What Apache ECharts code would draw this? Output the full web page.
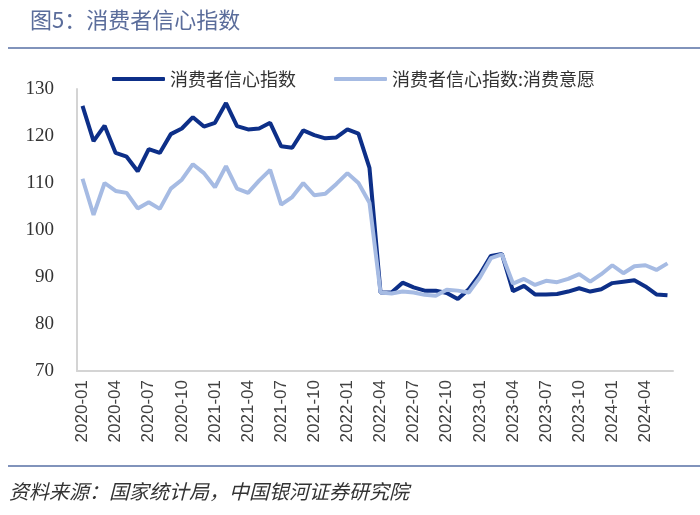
<!DOCTYPE html>
<html>
<head>
<meta charset="utf-8">
<script src="https://cdn.jsdelivr.net/npm/echarts@6/dist/echarts.min.js"></script>
<style>
  html, body { margin: 0; padding: 0; background: #fff; }
  #main { width: 700px; height: 515px; }
</style>
</head>
<body>
<div id="main"></div>
<script>
// 月份 2020-01 ~ 2024-06
var months = []
for (var y = 2020; y <= 2024; y++) {
  for (var m = 1; m <= 12; m++) {
    if (y === 2024 && m > 6) break
    months.push(y + '-' + (m < 10 ? '0' + m : m))
  }
}

// 消费者信心指数
var confidence = [
  126.4, 118.9, 122.2, 116.4, 115.6, 112.5, 117.2, 116.4, 120.4, 121.6, 124.0, 122.0,
  122.8, 127.0, 122.1, 121.4, 121.6, 122.8, 117.8, 117.5, 121.2, 120.2, 119.5, 119.7,
  121.4, 120.5, 113.2, 86.7, 86.7, 88.8, 87.8, 87.1, 87.1, 86.6, 85.3, 87.4,
  90.6, 94.5, 94.9, 87.0, 88.1, 86.3, 86.3, 86.4, 86.9, 87.6, 86.9, 87.4,
  88.7, 89.0, 89.3, 88.0, 86.3, 86.1
]

// 消费者信心指数:消费意愿
var willingness = [
  110.9, 103.2, 110.0, 108.3, 107.9, 104.6, 105.9, 104.5, 108.8, 110.7, 114.0, 112.1,
  109.1, 113.6, 108.8, 107.9, 110.5, 112.8, 105.4, 107.0, 110.0, 107.4, 107.7, 109.8,
  112.1, 110.0, 105.8, 86.7, 86.5, 86.9, 86.7, 86.2, 86.0, 87.3, 87.1, 86.7,
  89.9, 94.0, 94.8, 88.6, 89.6, 88.3, 89.2, 88.9, 89.6, 90.6, 89.0, 90.6,
  92.5, 90.8, 92.3, 92.5, 91.5, 92.9
]

var myChart = echarts.init(document.getElementById('main'))
var option = {
  backgroundColor: '#fff',
  animation: false,
  graphic: [
    {
      type: 'text', left: 30, top: 9,
      style: { text: '图5：消费者信心指数', fill: '#5b6d9b', font: '22px "Noto Sans CJK SC"' }
    },
    {
      type: 'rect', shape: { x: 8, y: 47, width: 692, height: 2 },
      style: { fill: '#8193bb' }
    },
    {
      type: 'rect', shape: { x: 8, y: 465, width: 692, height: 2 },
      style: { fill: '#8193bb' }
    },
    {
      type: 'text', left: 9, top: 481,
      style: { text: '资料来源：国家统计局，中国银河证券研究院', fill: '#333', font: 'italic 20px "Noto Sans CJK SC"' }
    }
  ],
  legend: {
    top: 65,
    left: 107,
    itemWidth: 53,
    itemHeight: 4,
    itemGap: 38,
    icon: 'roundRect',
    textStyle: { fontFamily: 'Noto Sans CJK SC', fontSize: 18, color: '#333' },
    data: ['消费者信心指数', '消费者信心指数:消费意愿']
  },
  grid: { left: 77, right: 27, top: 89, bottom: 144 },
  xAxis: {
    type: 'category',
    data: months,
    boundaryGap: true,
    axisLine: { lineStyle: { color: '#d4d4d4', width: 2 } },
    axisTick: { show: false },
    axisLabel: {
      interval: 2,
      rotate: 90,
      margin: 9,
      fontFamily: 'Liberation Sans',
      fontSize: 17,
      color: '#404040'
    }
  },
  yAxis: {
    type: 'value',
    min: 70,
    max: 130,
    interval: 10,
    axisLine: { show: true, lineStyle: { color: '#d4d4d4', width: 2 } },
    axisTick: { show: false },
    splitLine: { show: false },
    axisLabel: {
      margin: 23,
      fontFamily: 'Liberation Serif',
      fontSize: 19,
      color: '#333'
    }
  },
  series: [
    {
      name: '消费者信心指数',
      type: 'line',
      data: confidence,
      showSymbol: false,
      itemStyle: { color: '#0d2f88' },
      lineStyle: { color: '#0d2f88', width: 4 }
    },
    {
      name: '消费者信心指数:消费意愿',
      type: 'line',
      data: willingness,
      showSymbol: false,
      itemStyle: { color: '#a6bbe3' },
      lineStyle: { color: '#a6bbe3', width: 4 }
    }
  ]
}
myChart.setOption(option)
</script>
</body>
</html>
